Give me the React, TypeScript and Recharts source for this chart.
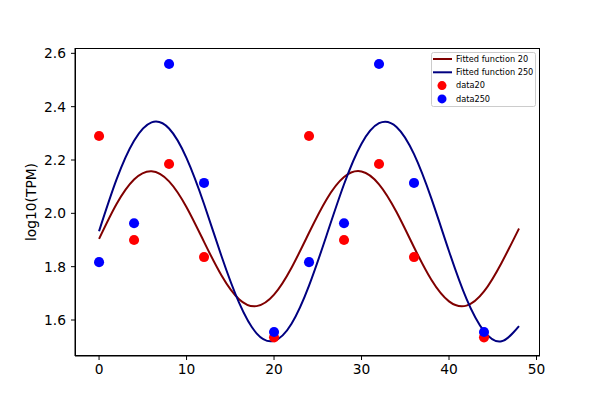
import React from 'react';
import {
  ComposedChart,
  Line,
  Scatter,
  XAxis,
  YAxis,
  ZAxis,
  Legend,
} from 'recharts';

// sampled hours (x) and measured log10(TPM)
const timePoints = [0, 4, 8, 12, 20, 24, 28, 32, 36, 44];
const data20Values = [2.29, 1.9, 2.185, 1.836, 1.535, 2.29, 1.9, 2.185, 1.836, 1.535];
const data250Values = [1.817, 1.963, 2.56, 2.114, 1.555, 1.817, 1.963, 2.56, 2.114, 1.555];

// fitted curves, every 2 h
const fitHours = [0, 2, 4, 6, 8, 10, 12, 14, 16, 18, 20, 22, 24, 26, 28, 30, 32, 34, 36, 38, 40, 42, 44, 46, 48];
const fit20Values = [
  1.904, 2.035, 2.127, 2.158, 2.12, 2.023, 1.893, 1.767, 1.678, 1.652, 1.695, 1.796, 1.927,
  2.052, 2.136, 2.157, 2.109, 2.005, 1.873, 1.75, 1.67, 1.654, 1.707, 1.814, 1.943,
];
const fit250Values = [
  1.933, 2.127, 2.272, 2.341, 2.318, 2.207, 2.035, 1.839, 1.665, 1.55, 1.522, 1.586, 1.729,
  1.917, 2.109, 2.261, 2.338, 2.324, 2.222, 2.054, 1.858, 1.679, 1.558, 1.52, 1.577,
];

const xTicks = [0, 10, 20, 30, 40, 50];
const yTicks = [1.6, 1.8, 2.0, 2.2, 2.4, 2.6];

const X_DOMAIN: [number, number] = [-2.75, 50.4];
const Y_DOMAIN: [number, number] = [1.465, 2.62];

const RED_LINE = '#800000';
const BLUE_LINE = '#000080';
const FONT = '"DejaVu Sans", sans-serif';

const data20 = timePoints.map((x, i) => ({ x, y: data20Values[i] }));
const data250 = timePoints.map((x, i) => ({ x, y: data250Values[i] }));
const fit20 = fitHours.map((x, i) => ({ x, y: fit20Values[i] }));
const fit250 = fitHours.map((x, i) => ({ x, y: fit250Values[i] }));

const legendItems = [
  { label: 'Fitted function 20', color: RED_LINE, kind: 'line' },
  { label: 'Fitted function 250', color: BLUE_LINE, kind: 'line' },
  { label: 'data20', color: '#ff0000', kind: 'dot' },
  { label: 'data250', color: '#0000ff', kind: 'dot' },
];

const LegendBox = () => (
  <svg width={105} height={55} style={{ display: 'block' }}>
    <rect x={0.5} y={0.5} width={104} height={54} rx={2} fill="#fff" stroke="#ccc" />
    {legendItems.map((it, i) => {
      const cy = 7 + i * 13.3;
      return (
        <g key={it.label}>
          {it.kind === 'line' ? (
            <line x1={2} x2={21} y1={cy} y2={cy} stroke={it.color} strokeWidth={2} />
          ) : (
            <circle cx={11} cy={cy} r={4.5} fill={it.color} />
          )}
          <text x={25} y={cy} dy="0.35em" fontSize={8.2} fontFamily={FONT} fill="#000">
            {it.label}
          </text>
        </g>
      );
    })}
  </svg>
);

const App: React.FC = () => {
  return (
    <div style={{ position: 'absolute', left: 0, top: 0, width: 600, height: 400, background: '#fff' }}>
      <ComposedChart width={600} height={400} margin={{ top: 48, right: 60, bottom: 0, left: 0 }}>
        <XAxis
          type="number"
          dataKey="x"
          domain={X_DOMAIN}
          ticks={xTicks}
          allowDataOverflow
          height={44}
          stroke="#000"
          tickSize={4}
          tickMargin={4}
          tick={{ fill: '#000', fontSize: 13.8, fontFamily: FONT }}
        />
        <YAxis
          type="number"
          dataKey="y"
          domain={Y_DOMAIN}
          ticks={yTicks}
          allowDataOverflow
          width={75}
          stroke="#000"
          tickSize={4}
          tickMargin={5}
          tickFormatter={(v: number) => v.toFixed(1)}
          tick={{ fill: '#000', fontSize: 13.8, fontFamily: FONT }}
          label={{
            content: () => (
              <text
                x={31}
                y={202}
                transform="rotate(-90 31 202)"
                textAnchor="middle"
                dominantBaseline="central"
                fontSize={13.8}
                fontFamily={FONT}
                fill="#000"
              >
                log10(TPM)
              </text>
            ),
          }}
        />
        <ZAxis range={[80, 80]} />
        <Line
          data={fit20}
          dataKey="y"
          type="natural"
          stroke={RED_LINE}
          strokeWidth={2}
          dot={false}
          activeDot={false}
          isAnimationActive={false}
        />
        <Line
          data={fit250}
          dataKey="y"
          type="natural"
          stroke={BLUE_LINE}
          strokeWidth={2}
          dot={false}
          activeDot={false}
          isAnimationActive={false}
        />
        <Scatter data={data20} dataKey="y" fill="#ff0000" isAnimationActive={false} />
        <Scatter data={data250} dataKey="y" fill="#0000ff" isAnimationActive={false} />
        <Legend
          layout="vertical"
          align="center"
          verticalAlign="middle"
          content={() => <LegendBox />}
          wrapperStyle={{ left: 431, top: 52, width: 105, height: 55 }}
        />
      </ComposedChart>
      {/* plot frame (top/right spines) */}
      <div
        style={{
          position: 'absolute',
          left: 75,
          top: 48,
          width: 465,
          height: 308,
          boxSizing: 'border-box',
          border: '1px solid #000',
          pointerEvents: 'none',
        }}
      />
    </div>
  );
};

export default App;
